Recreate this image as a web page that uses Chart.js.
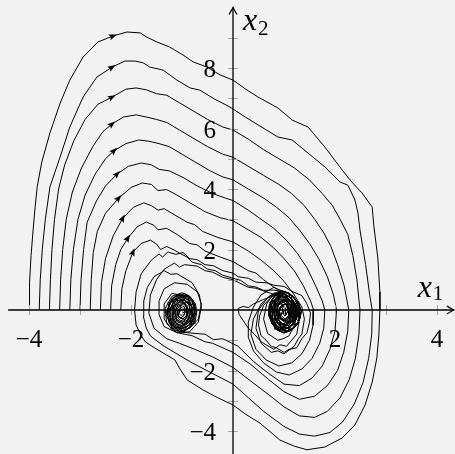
<!DOCTYPE html>
<html>
<head>
<meta charset="utf-8">
<script src="https://cdn.jsdelivr.net/npm/chart.js@4.4.1/dist/chart.umd.min.js"></script>
<style>
  body { margin: 0; background: #f2f2f2; }
  canvas { display: block; }
</style>
</head>
<body>
<canvas id="phase" width="455" height="454"></canvas>
<script>
// tick values and labels
const xTicks = [-4, -2, 2, 4];
const yTicks = [-4, -2, 2, 4, 6, 8];
const xMinor = [-4, -3, -2, -1, 1, 2, 3, 4];
const yMinor = [-4, -3, -2, -1, 1, 2, 3, 4, 5, 6, 7, 8, 9];
const xAxisEnds = [-4.41, 4.33];
const yAxisEnds = [-4.8, 10.0];

// heights where the direction arrows sit on the rising side of each orbit
const arrowY = [9.06, 8.03, 7.04, 6.15, 5.27, 4.5, 3.7, 3.04, 2.38, 1.92];

// trajectories (x1, x2)
const traj1 = [[-4.0,0],[-3.99,0.9],[-3.96,1.8],[-3.92,2.64],[-3.88,3.4],[-3.84,4.07],[-3.75,4.89],[-3.59,5.85],[-3.39,6.84],[-3.2,7.6],[-2.94,8.36],[-2.65,8.86],[-2.35,9.06],[-2.08,9.19],[-1.82,9.16],[-1.69,9.02],[-1.49,8.86],[-1.24,8.69],[-0.98,8.43],[-0.78,8.2],[-0.51,8.03],[-0.25,7.77],[0,7.6],[0.25,7.3],[0.49,7.04],[0.88,6.68],[1.16,6.28],[1.47,6.05],[1.8,5.39],[2.14,4.63],[2.33,4.23],[2.53,3.87],[2.73,3.4],[2.76,2.8],[2.84,1.72],[2.88,0.6],[2.88,0],[2.86,-0.83],[2.82,-1.59],[2.73,-2.38],[2.59,-3.14],[2.39,-3.8],[2.14,-4.23],[1.8,-4.53],[1.45,-4.62],[1.2,-4.5],[0.92,-4.3],[0.53,-3.74],[0.25,-3.45],[0,-3.14],[-0.3,-2.9],[-0.59,-2.64],[-0.9,-2.31],[-1.04,-1.95],[-1.14,-1.65],[-1.37,-1.42],[-1.57,-1.22],[-1.72,-1.05],[-1.8,-0.85],[-1.9,-0.5],[-1.93,0],[-1.9,0.6],[-1.8,1.2],[-1.6,1.65],[-1.45,1.85],[-1.38,1.75],[-1.28,1.92],[-1.12,1.84],[-0.98,1.9],[-0.85,1.7],[-0.7,1.66],[-0.55,1.5],[-0.38,1.46],[-0.2,1.3],[0,1.22],[0.1,1.1],[0.3,1.05],[0.45,0.92],[0.65,0.9],[0.8,0.82],[1.0,0.78],[1.15,0.62],[1.35,0.48],[1.45,0.2],[1.52,-0.1],[1.5,-0.4],[1.45,-0.75],[1.35,-0.95],[1.25,-1.25],[1.1,-1.3],[1.0,-1.4],[0.85,-1.25],[0.75,-1.2],[0.62,-0.95],[0.55,-0.85],[0.5,-0.5],[0.52,-0.2],[0.6,0.15],[0.72,0.38],[0.8,0.5]];
const traj2 = [[-3.8,0],[-3.78,1],[-3.74,2],[-3.68,3],[-3.59,4.07],[-3.39,5.06],[-3.2,6.05],[-2.94,7.04],[-2.67,7.7],[-2.37,8.03],[-2.12,8.23],[-1.92,8.23],[-1.76,8.17],[-1.63,8.03],[-1.37,7.93],[-1.1,7.6],[-0.84,7.34],[-0.65,7.27],[-0.39,7.0],[-0.06,6.71],[0.24,6.38],[0.49,6.12],[0.88,5.72],[1.16,5.62],[1.47,5.19],[1.8,4.73],[2.1,4.23],[2.25,4.13],[2.39,3.64],[2.45,3.21],[2.49,2.64],[2.6,1.5],[2.68,0.5],[2.73,0],[2.72,-0.8],[2.66,-1.6],[2.55,-2.4],[2.38,-3.1],[2.15,-3.7],[1.9,-4.05],[1.6,-4.17],[1.3,-4.1],[1.0,-3.85],[0.6,-3.35],[0.3,-2.9],[0,-2.45],[-0.4,-2.1],[-0.8,-1.75],[-1.1,-1.45],[-1.35,-1.2],[-1.55,-0.95],[-1.62,-0.85],[-1.7,-0.6],[-1.76,-0.2],[-1.75,0.3],[-1.68,0.75],[-1.55,1.1],[-1.35,1.3],[-1.22,1.18],[-1.1,1.2],[-0.8,0.9],[-0.66,0.5],[-0.62,0.1],[-0.68,-0.4],[-0.85,-0.72],[-1.1,-0.75],[-1.3,-0.45],[-1.33,0.05],[-1.2,0.45]];
const traj3 = [[-3.6,0],[-3.58,1],[-3.55,2],[-3.5,3],[-3.42,4],[-3.3,4.8],[-3.12,5.6],[-2.9,6.3],[-2.65,6.8],[-2.37,7.04],[-2.1,7.3],[-1.9,7.34],[-1.7,7.28],[-1.5,7.15],[-1.3,7.1],[-1.05,6.85],[-0.8,6.6],[-0.5,6.3],[-0.2,6.05],[0,5.95],[0.3,5.65],[0.6,5.3],[0.9,5.0],[1.2,4.7],[1.5,4.3],[1.75,3.85],[1.95,3.45],[2.1,3.0],[2.25,2.5],[2.35,1.8],[2.43,1.0],[2.49,0],[2.47,-0.8],[2.4,-1.6],[2.28,-2.3],[2.1,-2.9],[1.85,-3.35],[1.6,-3.55],[1.3,-3.5],[1.0,-3.2],[0.7,-2.8],[0.35,-2.35],[0,-1.9],[-0.4,-1.55],[-0.75,-1.3],[-1.05,-1.1],[-1.3,-0.95],[-1.55,-0.6],[-1.65,-0.1],[-1.62,0.5],[-1.5,1.0],[-1.35,1.35],[-1.25,1.45],[-1.15,1.55],[-1.05,1.42],[-0.95,1.5],[-0.7,1.45],[-0.55,1.3],[-0.4,1.25],[-0.2,1.08],[0,1.0],[0.3,0.75],[0.45,0.72],[0.65,0.6],[0.95,0.45],[1.2,0.2],[1.3,-0.3],[1.25,-0.8],[1.05,-1.2],[0.92,-1.15],[0.8,-1.3],[0.55,-1.05],[0.42,-0.8],[0.3,-0.6],[0.12,-0.15],[0.1,0.05],[0.2,0.12],[0.3,0.08],[0.4,0.2],[0.6,0.35],[0.85,0.5]];
const traj4 = [[-3.4,0],[-3.38,1],[-3.34,2],[-3.27,3],[-3.15,3.9],[-2.97,4.7],[-2.75,5.4],[-2.55,5.9],[-2.37,6.15],[-2.15,6.38],[-1.9,6.45],[-1.7,6.38],[-1.5,6.3],[-1.3,6.2],[-1.05,5.95],[-0.8,5.7],[-0.5,5.4],[-0.2,5.15],[0,5.05],[0.3,4.75],[0.6,4.45],[0.9,4.15],[1.15,3.85],[1.4,3.45],[1.6,3.0],[1.78,2.55],[1.92,2.1],[2.05,1.5],[2.18,0.8],[2.27,0],[2.25,-0.7],[2.17,-1.4],[2.05,-2.0],[1.85,-2.5],[1.6,-2.85],[1.3,-2.95],[1.0,-2.7],[0.7,-2.3],[0.35,-1.8],[0,-1.4],[-0.4,-1.1],[-0.55,-1.05],[-0.8,-0.85],[-1.1,-0.75],[-1.35,-0.55],[-1.45,-0.15],[-1.45,0.3],[-1.35,0.7],[-1.15,0.9],[-0.9,0.85],[-0.7,0.6],[-0.62,0.2],[-0.68,-0.3],[-0.85,-0.6],[-1.05,-0.7],[-1.25,-0.45],[-1.3,-0.05],[-1.2,0.3]];
const traj5 = [[-3.2,0],[-3.18,1],[-3.13,2],[-3.04,3],[-2.9,3.8],[-2.7,4.5],[-2.5,5.0],[-2.33,5.27],[-2.1,5.5],[-1.85,5.62],[-1.65,5.58],[-1.45,5.5],[-1.25,5.4],[-1.0,5.15],[-0.75,4.9],[-0.45,4.6],[-0.2,4.4],[0,4.3],[0.3,4.0],[0.6,3.7],[0.85,3.4],[1.1,3.05],[1.3,2.65],[1.5,2.2],[1.68,1.7],[1.85,1.1],[1.97,0.5],[2.03,0],[2.0,-0.7],[1.9,-1.3],[1.75,-1.85],[1.55,-2.25],[1.3,-2.5],[1.0,-2.45],[0.7,-2.1],[0.4,-1.7],[0.1,-1.2],[-0.2,-0.95],[-0.38,-0.98],[-0.55,-0.8],[-0.9,-0.75],[-1.2,-0.65],[-1.35,-0.3],[-1.35,0.2],[-1.2,0.55]];
const traj6 = [[-3.0,0],[-2.98,1],[-2.93,2],[-2.86,2.9],[-2.68,3.6],[-2.5,4.1],[-2.27,4.5],[-2.05,4.75],[-1.8,4.86],[-1.6,4.8],[-1.45,4.65],[-1.25,4.6],[-1.0,4.4],[-0.7,4.1],[-0.4,3.85],[-0.15,3.7],[0,3.62],[0.3,3.3],[0.55,3.0],[0.8,2.7],[1.05,2.3],[1.25,1.9],[1.45,1.4],[1.62,0.8],[1.75,0.3],[1.8,0],[1.78,-0.6],[1.7,-1.1],[1.55,-1.6],[1.35,-1.95],[1.1,-2.15],[0.85,-2.05],[0.6,-1.75],[0.4,-1.35],[0.3,-0.9],[0.3,-0.4],[0.4,0.1],[0.55,0.5],[0.8,0.75]];
const traj7 = [[-2.8,0],[-2.78,1],[-2.74,1.9],[-2.66,2.6],[-2.5,3.2],[-2.24,3.7],[-2.0,4.05],[-1.78,4.2],[-1.6,4.15],[-1.47,3.95],[-1.3,3.98],[-1.1,3.8],[-0.85,3.55],[-0.55,3.25],[-0.25,3.05],[0,2.95],[0.3,2.65],[0.55,2.4],[0.8,2.05],[1.0,1.7],[1.2,1.3],[1.38,0.8],[1.52,0.3],[1.58,0],[1.57,-0.5],[1.5,-1.0],[1.35,-1.45],[1.15,-1.75],[0.9,-1.85],[0.65,-1.65],[0.45,-1.3],[0.35,-0.8],[0.4,-0.3],[0.55,0.2],[0.75,0.5]];
const traj8 = [[-2.6,0],[-2.58,0.9],[-2.5,1.7],[-2.35,2.45],[-2.16,3.04],[-1.95,3.4],[-1.75,3.54],[-1.6,3.45],[-1.47,3.3],[-1.35,3.35],[-1.15,3.15],[-0.9,2.9],[-0.75,2.82],[-0.6,2.6],[-0.3,2.4],[0,2.25],[0.3,1.95],[0.55,1.65],[0.8,1.3],[1.0,0.95],[1.2,0.5],[1.35,0.1],[1.4,-0.3],[1.35,-0.8],[1.28,-0.95],[1.2,-1.2],[1.0,-1.45],[0.88,-1.35],[0.75,-1.4],[0.55,-1.1],[0.45,-0.6],[0.5,0],[0.7,0.45]];
const traj9 = [[-2.4,0],[-2.38,0.8],[-2.3,1.5],[-2.2,2.0],[-2.06,2.38],[-1.88,2.75],[-1.7,2.91],[-1.55,2.8],[-1.47,2.65],[-1.3,2.7],[-1.1,2.5],[-0.85,2.2],[-0.7,2.15],[-0.55,1.95],[-0.25,1.75],[0,1.6],[0.3,1.3],[0.45,1.22],[0.6,1.0],[0.85,0.7],[1.05,0.35],[1.2,0],[1.22,-0.45],[1.1,-0.85],[0.98,-0.95],[0.88,-1.0],[0.68,-0.78],[0.6,-0.3],[0.66,0.2],[0.8,0.55]];
const traj10 = [[-2.2,0],[-2.18,0.7],[-2.1,1.3],[-1.96,1.92],[-1.8,2.2],[-1.62,2.31],[-1.5,2.18],[-1.42,2.0],[-1.3,2.1],[-1.15,1.98],[-1.05,1.88],[-0.9,1.75],[-0.8,1.58],[-0.62,1.5],[-0.5,1.35],[-0.35,1.3],[-0.2,1.15],[0,1.05],[0.15,0.98],[0.3,0.8],[0.45,0.76],[0.6,0.65],[0.8,0.66]];

// the tangled ends inside the two wells
const leftCoreA = [[-1.0,0.57],[-0.86,0.47],[-0.78,0.3],[-0.72,-0.02],[-0.76,-0.32],[-0.8,-0.5],[-0.93,-0.68],[-1.05,-0.7],[-1.2,-0.5],[-1.27,-0.3],[-1.3,-0.05],[-1.24,0.2],[-1.2,0.38],[-1.08,0.5],[-0.95,0.5],[-0.81,0.37],[-0.77,0.12],[-0.75,-0.14],[-0.82,-0.44],[-0.95,-0.6],[-1.08,-0.6],[-1.2,-0.42],[-1.26,-0.12],[-1.2,0.16],[-1.15,0.36],[-1.0,0.44],[-0.86,0.31],[-0.8,0.06],[-0.81,-0.22],[-0.88,-0.44],[-1.0,-0.56],[-1.14,-0.46],[-1.2,-0.2],[-1.19,0.06],[-1.12,0.3],[-0.98,0.37],[-0.87,0.22],[-0.83,-0.02],[-0.86,-0.3],[-0.97,-0.46],[-1.09,-0.4],[-1.16,-0.18],[-1.14,0.08],[-1.08,0.24],[-0.98,0.28],[-0.9,0.14],[-0.87,-0.08],[-0.93,-0.3],[-1.03,-0.36],[-1.11,-0.2],[-1.1,0.02],[-1.03,0.16],[-0.96,0.12],[-0.93,-0.06],[-0.99,-0.22],[-1.06,-0.12],[-1.02,0.02]];
const leftCoreB = [[-0.96,0.55],[-0.84,0.44],[-0.74,0.22],[-0.71,-0.06],[-0.74,-0.36],[-0.85,-0.6],[-0.99,-0.68],[-1.13,-0.6],[-1.24,-0.38],[-1.29,-0.1],[-1.26,0.18],[-1.16,0.42],[-1.04,0.5],[-0.9,0.46],[-0.79,0.28],[-0.76,0.02],[-0.78,-0.28],[-0.88,-0.52],[-1.02,-0.6],[-1.15,-0.5],[-1.22,-0.24],[-1.23,0.06],[-1.14,0.32],[-1.02,0.42],[-0.89,0.36],[-0.81,0.16],[-0.8,-0.14],[-0.86,-0.4],[-0.99,-0.52],[-1.11,-0.44],[-1.18,-0.2],[-1.17,0.1],[-1.08,0.3],[-0.96,0.32],[-0.86,0.16],[-0.84,-0.1],[-0.9,-0.34],[-1.01,-0.42],[-1.11,-0.3],[-1.14,-0.04],[-1.08,0.18],[-0.97,0.22],[-0.9,0.06],[-0.9,-0.16],[-0.98,-0.3],[-1.07,-0.22],[-1.08,-0.02],[-1.0,0.1],[-0.95,-0.04],[-1.0,-0.14]];
const leftCoreC = [[-1.05,0.5],[-0.9,0.42],[-0.8,0.24],[-0.75,0.0],[-0.77,-0.26],[-0.83,-0.52],[-0.96,-0.72],[-1.1,-0.7],[-1.22,-0.52],[-1.28,-0.26],[-1.27,0.04],[-1.22,0.3],[-1.12,0.46],[-0.98,0.46],[-0.86,0.32],[-0.79,0.06],[-0.8,-0.2],[-0.86,-0.5],[-0.99,-0.62],[-1.14,-0.56],[-1.23,-0.32],[-1.24,-0.04],[-1.17,0.22],[-1.07,0.38],[-0.94,0.34],[-0.85,0.14],[-0.84,-0.14],[-0.9,-0.42],[-1.03,-0.52],[-1.15,-0.4],[-1.19,-0.14],[-1.15,0.12],[-1.06,0.28],[-0.95,0.24],[-0.88,0.04],[-0.89,-0.22],[-0.98,-0.4],[-1.09,-0.36],[-1.14,-0.12],[-1.1,0.1],[-1.01,0.18],[-0.94,0.06],[-0.95,-0.16],[-1.03,-0.28],[-1.1,-0.14],[-1.06,0.04],[-1.0,0.0]];
const leftCoreD = [[-1.04,0.1],[-0.9,0.3],[-0.84,0.18],[-0.76,0.22],[-0.74,-0.08],[-0.8,-0.2],[-0.74,-0.44],[-0.9,-0.52],[-0.96,-0.72],[-1.08,-0.56],[-1.2,-0.62],[-1.22,-0.34],[-1.32,-0.2],[-1.24,0.02],[-1.28,0.24],[-1.14,0.3],[-1.1,0.52],[-0.98,0.4],[-0.88,0.48],[-0.86,0.2],[-0.78,0.04],[-0.86,-0.16],[-0.82,-0.36],[-0.96,-0.44],[-1.04,-0.6],[-1.12,-0.42],[-1.2,-0.3],[-1.16,-0.08],[-1.2,0.12],[-1.08,0.2],[-1.02,0.36],[-0.94,0.2],[-0.9,0.0],[-0.92,-0.22],[-1.0,-0.3],[-1.08,-0.18],[-1.04,0.0]];
const rightCoreA = [[0.98,0.62],[1.12,0.52],[1.22,0.34],[1.3,0.06],[1.32,-0.22],[1.26,-0.48],[1.12,-0.68],[0.98,-0.74],[0.84,-0.6],[0.75,-0.36],[0.71,-0.06],[0.74,0.24],[0.82,0.46],[0.96,0.54],[1.1,0.44],[1.22,0.2],[1.26,-0.08],[1.22,-0.38],[1.1,-0.6],[0.96,-0.64],[0.84,-0.5],[0.77,-0.22],[0.78,0.1],[0.86,0.38],[0.99,0.46],[1.12,0.32],[1.19,0.06],[1.2,-0.24],[1.1,-0.5],[0.96,-0.56],[0.85,-0.4],[0.81,-0.1],[0.85,0.2],[0.92,0.36],[1.02,0.36],[1.12,0.18],[1.15,-0.08],[1.1,-0.36],[0.98,-0.46],[0.88,-0.32],[0.85,-0.06],[0.9,0.2],[1.0,0.26],[1.08,0.1],[1.1,-0.16],[1.02,-0.34],[0.92,-0.24],[0.9,0.0],[0.97,0.14],[1.04,0.02],[1.0,-0.12]];
const rightCoreB = [[1.02,0.6],[1.17,0.46],[1.28,0.24],[1.34,-0.04],[1.3,-0.34],[1.2,-0.58],[1.04,-0.7],[0.88,-0.62],[0.78,-0.4],[0.73,-0.1],[0.76,0.2],[0.86,0.44],[1.0,0.52],[1.14,0.4],[1.24,0.16],[1.28,-0.14],[1.2,-0.44],[1.06,-0.6],[0.92,-0.54],[0.82,-0.3],[0.8,0.0],[0.84,0.28],[0.94,0.44],[1.06,0.42],[1.17,0.24],[1.21,-0.04],[1.16,-0.34],[1.04,-0.5],[0.92,-0.42],[0.86,-0.16],[0.87,0.14],[0.96,0.32],[1.07,0.3],[1.14,0.1],[1.14,-0.18],[1.04,-0.38],[0.94,-0.3],[0.91,-0.04],[0.96,0.18],[1.05,0.18],[1.08,-0.04],[1.02,-0.2],[0.98,-0.04]];
const rightCoreC = [[0.95,0.64],[1.1,0.56],[1.2,0.4],[1.28,0.14],[1.3,-0.16],[1.28,-0.44],[1.16,-0.66],[1.0,-0.76],[0.86,-0.66],[0.76,-0.44],[0.7,-0.16],[0.71,0.14],[0.78,0.4],[0.88,0.56],[1.02,0.54],[1.15,0.36],[1.22,0.1],[1.23,-0.2],[1.16,-0.48],[1.02,-0.64],[0.88,-0.56],[0.78,-0.3],[0.76,0.0],[0.82,0.3],[0.93,0.46],[1.05,0.42],[1.14,0.22],[1.17,-0.06],[1.13,-0.34],[1.0,-0.52],[0.88,-0.42],[0.82,-0.16],[0.84,0.14],[0.94,0.32],[1.04,0.28],[1.1,0.08],[1.1,-0.2],[1.0,-0.38],[0.9,-0.26],[0.88,0.0],[0.96,0.16],[1.03,0.06],[1.02,-0.14],[0.95,-0.1]];
const rightCoreD = [[0.96,0.1],[1.1,0.32],[1.16,0.18],[1.26,0.24],[1.28,-0.06],[1.2,-0.2],[1.3,-0.42],[1.14,-0.52],[1.06,-0.72],[0.94,-0.56],[0.82,-0.64],[0.8,-0.36],[0.7,-0.2],[0.78,0.02],[0.72,0.26],[0.86,0.32],[0.9,0.54],[1.02,0.42],[1.14,0.5],[1.16,0.2],[1.24,0.04],[1.16,-0.16],[1.2,-0.36],[1.06,-0.44],[0.98,-0.6],[0.9,-0.42],[0.82,-0.3],[0.86,-0.08],[0.82,0.12],[0.94,0.2],[1.0,0.36],[1.08,0.2],[1.12,0.0],[1.1,-0.22],[1.02,-0.3],[0.94,-0.18],[0.98,0.0]];

const curves = [
  traj1.concat(rightCoreA, rightCoreD),
  traj2.concat(leftCoreA, leftCoreD),
  traj3.concat(rightCoreB),
  traj4.concat(leftCoreB),
  traj5.concat(leftCoreC),
  traj6.concat(rightCoreC),
  traj7.concat(rightCoreB),
  traj8.concat(rightCoreA),
  traj9.concat(rightCoreC),
  traj10.concat(rightCoreB),
];

const serif = "'Liberation Serif', 'DejaVu Serif', serif";

const axesPlugin = {
  id: "axes",
  afterDatasetsDraw(chart) {
    const ctx = chart.ctx;
    const sx = chart.scales.x;
    const sy = chart.scales.y;
    const ox = sx.getPixelForValue(0);
    const oy = sy.getPixelForValue(0);
    ctx.save();

    // minor ticks
    ctx.strokeStyle = "#a8a8a8";
    ctx.lineWidth = 1;
    ctx.beginPath();
    xMinor.forEach((v) => {
      const px = Math.round(sx.getPixelForValue(v)) + 0.5;
      ctx.moveTo(px, oy - 5);
      ctx.lineTo(px, oy + 5);
    });
    yMinor.forEach((v) => {
      const py = Math.round(sy.getPixelForValue(v)) + 0.5;
      ctx.moveTo(ox - 5, py);
      ctx.lineTo(ox + 5, py);
    });
    ctx.stroke();

    // axis lines
    ctx.strokeStyle = "#000";
    ctx.lineWidth = 1.3;
    const x0 = sx.getPixelForValue(xAxisEnds[0]);
    const x1 = sx.getPixelForValue(xAxisEnds[1]);
    const y0 = sy.getPixelForValue(yAxisEnds[0]);
    const y1 = sy.getPixelForValue(yAxisEnds[1]);
    ctx.beginPath();
    ctx.moveTo(x0, oy);
    ctx.lineTo(x1, oy);
    ctx.moveTo(ox, y0);
    ctx.lineTo(ox, y1);
    ctx.stroke();

    // arrow tips
    ctx.beginPath();
    ctx.moveTo(x1 - 7, oy - 4);
    ctx.quadraticCurveTo(x1 - 2, oy - 1, x1, oy);
    ctx.quadraticCurveTo(x1 - 2, oy + 1, x1 - 7, oy + 4);
    ctx.moveTo(ox - 4, y1 + 7);
    ctx.quadraticCurveTo(ox - 1, y1 + 2, ox, y1);
    ctx.quadraticCurveTo(ox + 1, y1 + 2, ox + 4, y1 + 7);
    ctx.stroke();

    // tick labels
    ctx.fillStyle = "#000";
    ctx.font = "25px " + serif;
    ctx.textBaseline = "alphabetic";
    ctx.textAlign = "center";
    xTicks.forEach((v) => {
      const txt = v < 0 ? "\u2212" + Math.abs(v) : String(v);
      ctx.fillText(txt, sx.getPixelForValue(v), oy + 37);
    });
    ctx.textAlign = "right";
    yTicks.forEach((v) => {
      const txt = v < 0 ? "\u2212" + Math.abs(v) : String(v);
      ctx.fillText(txt, ox - 17, sy.getPixelForValue(v) + 9);
    });

    // axis names
    ctx.textAlign = "left";
    ctx.font = "italic 32px " + serif;
    ctx.fillText("x", ox + 10, y1 + 22);
    ctx.fillText("x", x1 - 36, oy - 13);
    ctx.font = "21px " + serif;
    ctx.fillText("2", ox + 25, y1 + 27);
    ctx.fillText("1", x1 - 21, oy - 10);
    ctx.restore();
  },
};

const arrowPlugin = {
  id: "flowArrows",
  afterDatasetsDraw(chart) {
    const ctx = chart.ctx;
    const sx = chart.scales.x;
    const sy = chart.scales.y;
    ctx.save();
    ctx.fillStyle = "#000";
    arrowY.forEach((yv, i) => {
      const pts = curves[i];
      for (let k = 1; k < pts.length; k++) {
        const a = pts[k - 1], b = pts[k];
        if (a[1] <= yv && b[1] >= yv && b[1] > a[1]) {
          const t = (yv - a[1]) / (b[1] - a[1]);
          const px = sx.getPixelForValue(a[0] + t * (b[0] - a[0]));
          const py = sy.getPixelForValue(yv);
          const dx = sx.getPixelForValue(b[0]) - sx.getPixelForValue(a[0]);
          const dy = sy.getPixelForValue(b[1]) - sy.getPixelForValue(a[1]);
          const ang = Math.atan2(dy, dx);
          ctx.translate(px, py);
          ctx.rotate(ang);
          ctx.beginPath();
          ctx.moveTo(4, 0);
          ctx.lineTo(-4, -3);
          ctx.lineTo(-2.5, 0);
          ctx.lineTo(-4, 3);
          ctx.closePath();
          ctx.fill();
          ctx.setTransform(1, 0, 0, 1, 0, 0);
          break;
        }
      }
    });
    ctx.restore();
  },
};

new Chart(document.getElementById("phase"), {
  type: "scatter",
  data: {
    datasets: curves.map((c) => ({
      data: c.map((p) => ({ x: p[0], y: p[1] })),
      showLine: true,
      borderColor: "#000",
      borderWidth: 1,
      pointRadius: 0,
      tension: 0,
      fill: false,
    })),
  },
  options: {
    responsive: false,
    animation: false,
    events: [],
    layout: { padding: 0 },
    plugins: { legend: { display: false }, tooltip: { enabled: false } },
    scales: {
      x: { type: "linear", min: -4.569, max: 4.353, display: false },
      y: { type: "linear", min: -4.76, max: 10.248, display: false },
    },
  },
  plugins: [axesPlugin, arrowPlugin],
});
</script>
</body>
</html>
